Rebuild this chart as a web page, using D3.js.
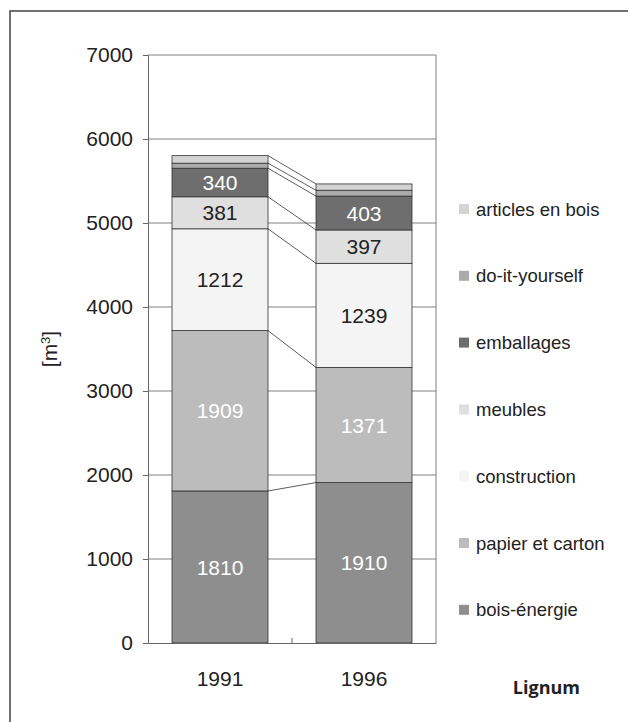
<!DOCTYPE html>
<html>
<head>
<meta charset="utf-8">
<script src="https://cdn.jsdelivr.net/npm/d3@7"></script>
<style>
  body { margin: 0; background: #fff; }
  #chart text { font-family: "Liberation Sans", "Arial", sans-serif; }
  #chart text.src { font-family: "Open Sans", sans-serif; }
</style>
</head>
<body>
<svg id="chart" width="628" height="722"></svg>
<script>
// data
const years = ["1991", "1996"];
const series = ["bois-énergie", "papier et carton", "construction", "meubles", "emballages", "do-it-yourself", "articles en bois"];
const values1991 = [1810, 1909, 1212, 381, 340, 60, 90];
const values1996 = [1910, 1371, 1239, 397, 403, 70, 75];
const yTicks = [0, 1000, 2000, 3000, 4000, 5000, 6000, 7000];
const showLabel = [true, true, true, true, true, false, false];

const fills = ["#8e8e8e", "#bcbcbc", "#f4f4f4", "#dfdfdf", "#6e6e6e", "#ababab", "#d4d4d4"];
const labelColors = ["#fff", "#fff", "#222", "#222", "#fff", "#222", "#222"];

const svg = d3.select("#chart");

// outer frame (runs off the right and bottom edge)
svg.append("path")
  .attr("d", "M10,722 L10,11 L628,11")
  .attr("fill", "none")
  .attr("stroke", "#444")
  .attr("stroke-width", 1.5);

const mLeft = 148, mRight = 436, mTop = 55, mBottom = 643;

const x = d3.scaleBand().domain(years).range([mLeft, mRight]).paddingInner(1/3).paddingOuter(1/6);
const y = d3.scaleLinear().domain([0, 7000]).range([mBottom, mTop]);

// stacked rows
const rows = years.map((yr, i) => {
  const r = { year: yr };
  series.forEach((s, j) => r[s] = (i === 0 ? values1991 : values1996)[j]);
  return r;
});
const stack = d3.stack().keys(series)(rows);

// gridlines
svg.append("g").selectAll("line")
  .data(yTicks.filter(t => t > 0))
  .join("line")
  .attr("x1", mLeft).attr("x2", mRight)
  .attr("y1", d => y(d)).attr("y2", d => y(d))
  .attr("stroke", "#808080").attr("stroke-width", 1);

// plot box right side
svg.append("line")
  .attr("x1", mRight).attr("x2", mRight).attr("y1", mTop).attr("y2", mBottom)
  .attr("stroke", "#808080");

// bars
stack.forEach((layer, j) => {
  svg.append("g").selectAll("rect")
    .data(layer)
    .join("rect")
    .attr("x", d => x(d.data.year))
    .attr("width", x.bandwidth())
    .attr("y", d => y(d[1]))
    .attr("height", d => y(d[0]) - y(d[1]))
    .attr("fill", fills[j])
    .attr("stroke", "#333")
    .attr("stroke-width", 0.8);
});

// series lines between bars
stack.forEach(layer => {
  svg.append("line")
    .attr("x1", x(years[0]) + x.bandwidth()).attr("y1", y(layer[0][1]))
    .attr("x2", x(years[1])).attr("y2", y(layer[1][1]))
    .attr("stroke", "#333").attr("stroke-width", 0.8);
});

// value labels
stack.forEach((layer, j) => {
  if (!showLabel[j]) return;
  svg.append("g").selectAll("text")
    .data(layer)
    .join("text")
    .attr("x", d => x(d.data.year) + x.bandwidth() / 2)
    .attr("y", d => (y(d[0]) + y(d[1])) / 2)
    .attr("dy", "0.36em")
    .attr("text-anchor", "middle")
    .attr("font-size", 21)
    .attr("fill", labelColors[j])
    .text(d => d[1] - d[0]);
});

// y axis
const yAxis = svg.append("g")
  .attr("transform", `translate(${mLeft},0)`)
  .call(d3.axisLeft(y).tickValues(yTicks).tickSize(5).tickPadding(10).tickFormat(d3.format("d")));
yAxis.selectAll("path, line").attr("stroke", "#666");
yAxis.selectAll("text").attr("font-size", 21).attr("fill", "#222");

// x axis
const xAxis = svg.append("g")
  .attr("transform", `translate(0,${mBottom})`)
  .call(d3.axisBottom(x).tickSize(0).tickPadding(28));
xAxis.select("path").attr("stroke", "#666");
xAxis.selectAll("text").attr("font-size", 21).attr("fill", "#222");
// category separator tick
svg.append("line")
  .attr("x1", (mLeft + mRight) / 2).attr("x2", (mLeft + mRight) / 2)
  .attr("y1", mBottom).attr("y2", mBottom - 5)
  .attr("stroke", "#666");

// axis title
svg.append("text")
  .attr("transform", `translate(57,${(mTop + mBottom) / 2}) rotate(-90)`)
  .attr("text-anchor", "middle")
  .attr("font-size", 21)
  .attr("fill", "#222")
  .html('[m<tspan baseline-shift="super" font-size="13">3</tspan>]');

// legend (top item is the top of the stack)
const legend = svg.append("g").selectAll("g")
  .data(series.slice().reverse())
  .join("g")
  .attr("transform", (d, i) => `translate(459,${209 + i * 66.8})`);
legend.append("rect")
  .attr("x", 0).attr("y", -5).attr("width", 10).attr("height", 10)
  .attr("fill", d => fills[series.indexOf(d)]);
legend.append("text")
  .attr("x", 17).attr("dy", "0.36em")
  .attr("font-size", 18.5).attr("fill", "#222")
  .text(d => d);

// source
svg.append("text")
  .attr("class", "src")
  .attr("x", 580).attr("y", 694)
  .attr("text-anchor", "end")
  .attr("font-weight", "bold")
  .attr("font-size", 18)
  .attr("fill", "#222")
  .text("Lignum");
</script>
</body>
</html>
